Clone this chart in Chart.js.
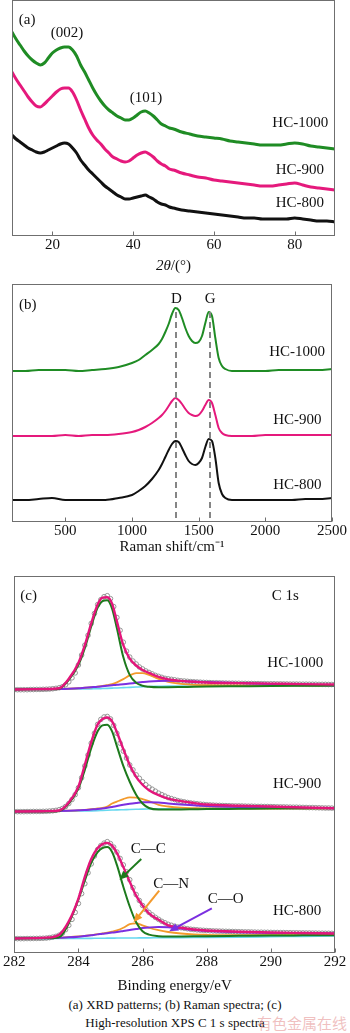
<!DOCTYPE html>
<html>
<head>
<meta charset="utf-8">
<script src="https://cdn.jsdelivr.net/npm/chart.js@4.4.0/dist/chart.umd.min.js"></script>
<style>
  html, body { margin: 0; padding: 0; background: #fff; }
  body { width: 350px; height: 1033px; position: relative; overflow: hidden; font-family: "Liberation Serif", serif; }
  .panel { position: absolute; left: 0; width: 350px; }
  #caption { position: absolute; left: 0; width: 350px; top: 996px; text-align: center; font-size: 13px; line-height: 18px; color: #111; }
  #mark { position: absolute; left: 257px; top: 1015px; font-size: 15px; line-height: 16px; font-family: "Noto Sans CJK SC", sans-serif; color: rgba(225, 130, 130, 0.5); }
</style>
</head>
<body>
<div class="panel" style="top:0;height:276px"><canvas id="xrdChart"></canvas></div>
<div class="panel" style="top:284px;height:271px"><canvas id="ramanChart"></canvas></div>
<div class="panel" style="top:572px;height:422px"><canvas id="xpsChart"></canvas></div>
<div id="caption">(a) XRD patterns; (b) Raman spectra; (c)<br>High-resolution XPS C 1 s spectra</div>
<div id="mark">有色金属在线</div>

<script>
// ---- (a) XRD, intensities (offset stacked, arb. units)
const xrdAngle = [10, 11, 12, 13, 14, 15, 16, 17, 18, 19, 20, 21, 22, 23, 24, 25, 26, 27, 28, 29, 30,
    31, 32, 33, 34, 35, 36, 37, 38, 39, 40, 41, 42, 43, 44, 45, 46, 47, 48, 49, 50,
    52, 54, 56, 58, 60, 62, 64, 66, 68, 70, 72, 74, 76, 78, 80, 82, 84, 86, 88, 90];
const xrdHC1000 = [203, 196, 190, 184, 179, 175, 172, 170, 172, 177, 182, 185, 187, 188, 188, 185, 179, 170, 163, 155, 147,
    140, 134, 129, 125, 122, 119, 117, 115, 115, 117, 120, 123, 124, 122, 119, 115, 111, 109, 107, 106,
    103, 101, 99, 98, 97, 96, 94, 93, 92, 91, 90, 90, 90, 91, 92, 91, 89, 88, 87, 86];
const xrdHC900 = [163, 156, 150, 144, 138, 133, 129, 128, 131, 135, 139, 143, 146, 147, 147, 143, 135, 125, 116, 107, 100,
    95, 91, 86, 82, 78, 76, 74, 73, 74, 77, 80, 82, 83, 81, 78, 74, 71, 69, 66, 65,
    62, 60, 58, 57, 55, 54, 53, 52, 51, 50, 49, 49, 50, 51, 52, 50, 48, 47, 46, 45];
const xrdHC800 = [100, 96, 93, 90, 87, 85, 83, 82, 83, 85, 87, 89, 91, 92, 91, 87, 82, 75, 70, 65, 61,
    57, 53, 49, 46, 43, 40, 38, 36, 36, 37, 38, 39, 40, 38, 36, 33, 31, 30, 28, 27,
    25, 24, 23, 22, 21, 20, 19, 18, 17, 17, 16, 16, 16, 16, 17, 16, 15, 14, 14, 13];
const xrdTicks = [20, 40, 60, 80];

// ---- (b) Raman
const ramanShift = [100, 200, 300, 400, 500, 600, 700, 800, 900, 1000, 1050, 1100, 1150, 1200, 1225, 1250, 1275,
    1300, 1325, 1350, 1375, 1400, 1425, 1450, 1475, 1500, 1525, 1550, 1575, 1600, 1625, 1650, 1675,
    1700, 1750, 1800, 1900, 2000, 2100, 2200, 2300, 2400, 2500];
const ramanHC1000 = [150, 150, 151, 151, 151, 150, 151, 152, 154, 158, 161, 166, 171, 177, 182, 189, 197,
    207, 213, 211, 203, 193, 185, 180, 178, 179, 185, 198, 209, 205, 183, 163, 155,
    152, 150, 150, 150, 150, 151, 151, 151, 151, 152];
const ramanHC900 = [85, 85, 85, 85, 86, 85, 86, 86, 87, 89, 91, 94, 98, 103, 106, 110, 115,
    120, 123, 121, 117, 112, 108, 106, 105, 106, 110, 116, 121, 118, 106, 93, 88,
    86, 85, 85, 85, 86, 86, 86, 86, 86, 86];
const ramanHC800 = [21, 21, 22, 23, 21, 21, 21, 21, 23, 26, 30, 35, 42, 51, 57, 64, 71,
    77, 80, 79, 73, 66, 60, 57, 56, 58, 63, 74, 82, 80, 63, 38, 27,
    23, 21, 21, 21, 21, 21, 21, 22, 22, 23];
const ramanBands = [1330, 1585];   // D and G band positions
const ramanTicks = [500, 1000, 1500, 2000, 2500];

// ---- (c) XPS C 1s
const xpsEnergy = [282.0, 282.1, 282.2, 282.3, 282.4, 282.5, 282.6, 282.7, 282.8, 282.9,
    283.0, 283.1, 283.2, 283.3, 283.4, 283.5, 283.6, 283.7, 283.8, 283.9,
    284.0, 284.1, 284.2, 284.3, 284.4, 284.5, 284.6, 284.7, 284.8, 284.9,
    285.0, 285.1, 285.2, 285.3, 285.4, 285.5, 285.6, 285.7, 285.8, 285.9,
    286.0, 286.1, 286.2, 286.3, 286.4, 286.5, 286.6, 286.7, 286.8, 286.9,
    287.0, 287.1, 287.2, 287.3, 287.4, 287.5, 287.6, 287.7, 287.8, 287.9,
    288.0, 288.1, 288.2, 288.3, 288.4, 288.5, 288.6, 288.7, 288.8, 288.9,
    289.0, 289.1, 289.2, 289.3, 289.4, 289.5, 289.6, 289.7, 289.8, 289.9,
    290.0, 290.1, 290.2, 290.3, 290.4, 290.5, 290.6, 290.7, 290.8, 290.9,
    291.0, 291.1, 291.2, 291.3, 291.4, 291.5, 291.6, 291.7, 291.8, 291.9, 292.0];
const xpsMeasHC1000 = [265, 265, 265, 265, 265, 265.2, 265.2, 265.3, 265.3, 265.4,
    265.5, 265.7, 266, 266.4, 267, 268, 270, 273, 277, 282,
    290, 300, 310, 320, 332, 342, 351, 356, 359, 360,
    357, 349, 338, 325, 313, 304, 298, 294, 291, 288,
    286, 284, 282.5, 281, 279.5, 278.5, 277.5, 276.5, 276, 275.5,
    275, 274.5, 274, 273.8, 273.5, 273.2, 273, 272.8, 272.6, 272.4,
    272.3, 272.2, 272, 272, 271.9, 271.8, 271.7, 271.6, 271.6, 271.5,
    271.5, 271.4, 271.4, 271.3, 271.3, 271.2, 271.2, 271.1, 271.1, 271,
    271, 271, 270.9, 270.9, 270.8, 270.8, 270.7, 270.7, 270.7, 270.6,
    270.6, 270.6, 270.5, 270.5, 270.5, 270.4, 270.4, 270.4, 270.3, 270.3, 270.3];
const xpsMeasHC900 = [141.8, 141.8, 141.8, 141.8, 141.9, 141.9, 142, 142, 142, 142.1,
    142.2, 142.4, 142.7, 143.1, 143.8, 145, 147, 150, 154, 159,
    166, 176, 188, 199, 211, 221, 230, 235, 237.5, 238,
    235.5, 229, 221, 211, 203, 196, 189, 184, 179, 175.5,
    172, 169, 166.5, 164.5, 162.5, 160.5, 159, 157.5, 156, 155,
    154, 153, 152.3, 151.7, 151.1, 150.6, 150.2, 149.8, 149.4, 149.1,
    148.8, 148.6, 148.4, 148.2, 148.1, 148, 147.9, 147.8, 147.7, 147.6,
    147.6, 147.5, 147.4, 147.3, 147.3, 147.2, 147.1, 147.1, 147, 147,
    146.9, 146.8, 146.7, 146.6, 146.6, 146.5, 146.4, 146.3, 146.3, 146.2,
    146.1, 146, 145.9, 145.9, 145.8, 145.7, 145.6, 145.5, 145.5, 145.4, 145.3];
const xpsMeasHC800 = [13.5, 13.5, 13.5, 13.5, 13.6, 13.6, 13.7, 13.7, 13.8, 13.9,
    14.1, 14.5, 15, 15.8, 17, 19, 22.5, 27, 33, 40,
    49, 59, 69, 80, 89, 97, 103.5, 107.5, 110, 111.5,
    109.5, 106, 101, 94.5, 88, 81, 73, 65, 58, 52,
    47, 43, 40, 37.5, 35, 33, 31, 29.5, 28, 27,
    26, 25.2, 24.5, 24, 23.5, 23, 22.7, 22.4, 22.1, 21.9,
    21.7, 21.5, 21.3, 21.2, 21.1, 21, 20.9, 20.8, 20.7, 20.6,
    20.5, 20.4, 20.3, 20.3, 20.2, 20.1, 20, 20, 19.9, 19.9,
    19.8, 19.7, 19.7, 19.6, 19.6, 19.5, 19.5, 19.4, 19.4, 19.3,
    19.3, 19.2, 19.2, 19.1, 19.1, 19, 19, 18.9, 18.9, 18.8, 18.7];

// fitted curves (fit envelope and components)
const xpsFitEnergy = [282, 283, 283.4, 283.7, 284, 284.2, 284.4, 284.6, 284.75, 284.9, 285.05, 285.2, 285.4,
    285.6, 285.8, 286, 286.2, 286.5, 286.8, 287.2, 287.6, 288, 289, 290, 291, 292];

const fitHC1000 = [265.3, 265.7, 266.5, 276, 292, 310, 332, 351, 358, 358.5, 352, 334, 310,
    296.5, 289.5, 285, 282, 278, 275.5, 274, 273, 272.3, 271.7, 271.2, 270.7, 270.3];
const ccHC1000 = [265.3, 265.5, 266, 275, 290, 307, 329, 348, 354.5, 355.5, 347, 327, 298,
    280, 272, 269, 268, 267.5, 267.5, 267.7, 268, 268.2, 268.5, 268.8, 269, 269.2];
const cnHC1000 = [265.3, 265.5, 265.7, 266, 266.5, 267, 267.5, 268.2, 268.8, 269.7, 270.7, 272.5, 275.7,
    279.5, 281.8, 281.8, 280, 276, 273, 271, 270, 269.5, 269.3, 269.3, 269.3, 269.3];
const coHC1000 = [265.3, 265.5, 265.7, 266, 266.5, 267, 267.5, 268, 268.5, 269, 269.5, 270, 270.5,
    271.2, 272, 272.7, 273.3, 273.8, 274, 273.7, 273.2, 272.7, 271.7, 270.7, 270, 269.3];
const bgHC1000 = [265.3, 265.4, 265.5, 265.6, 265.7, 265.8, 265.9, 266, 266.2, 266.4, 266.6, 266.8, 267.1,
    267.4, 267.7, 268, 268.2, 268.4, 268.6, 268.7, 268.8, 268.9, 269, 269.1, 269.2, 269.3];

const fitHC900 = [142, 142.3, 143, 151, 167, 189, 212, 230, 235.5, 237, 233, 222, 205,
    189, 177, 169, 163.5, 158.5, 155, 152.5, 150.5, 149, 147.8, 147, 146, 145.3];
const ccHC900 = [142, 142, 142.5, 150, 165, 184, 206, 223, 229, 229.7, 223, 208, 188,
    172, 159, 150, 145.5, 144, 144, 144, 144.2, 144.4, 144.7, 145, 145.2, 145.3];
const cnHC900 = [142, 142.2, 142.5, 142.8, 143.2, 143.7, 144.3, 145, 145.5, 147, 150, 152, 154.5,
    156.3, 156, 154.5, 152.5, 148.7, 147, 145.8, 145.3, 145, 145, 145, 145.2, 145.3];
const coHC900 = [142, 142.2, 142.5, 142.8, 143.2, 143.5, 144, 144.5, 145, 145.7, 146.5, 147.5, 148.7,
    149.7, 150.5, 151.2, 151.3, 151, 150, 149, 148.2, 147.5, 146.5, 146, 145.6, 145.3];
const bgHC900 = [142, 142.1, 142.2, 142.3, 142.4, 142.5, 142.6, 142.8, 143, 143.2, 143.4, 143.6, 143.8,
    144, 144.2, 144.4, 144.5, 144.6, 144.7, 144.8, 144.9, 145, 145.1, 145.2, 145.3, 145.3];

const fitHC800 = [13.7, 14.5, 17.5, 31, 54, 76, 94, 105, 109, 110.3, 107.5, 100, 86,
    71, 57, 47, 39, 32.5, 27, 24.5, 22.7, 21.7, 20.5, 19.7, 19.2, 18.7];
const ccHC800 = [13.7, 14, 15, 29, 53, 72, 90, 101, 105, 106, 101, 88, 66,
    46, 30, 21, 17.5, 16, 15.7, 15.7, 15.8, 16, 16.3, 16.6, 16.8, 17];
const cnHC800 = [13.7, 14, 14.5, 15, 15.7, 16.3, 17, 18, 18.8, 19.5, 20.5, 21.8, 24.5,
    28.2, 29, 27, 24.5, 22, 20.2, 18.7, 17.8, 17.4, 17, 17, 17, 17];
const coHC800 = [13.7, 14, 14.4, 14.8, 15.5, 16.2, 17, 17.8, 18.5, 19, 19.6, 20.2, 21.2,
    22.2, 23.2, 24.2, 24.8, 25.3, 25, 23.8, 22.2, 21.2, 20, 19.3, 19, 18.7];
const bgHC800 = [13.7, 13.7, 13.7, 13.7, 13.7, 13.8, 13.8, 13.9, 13.9, 14, 14, 14.1, 14.1,
    14.2, 14.2, 14.3, 14.3, 14.4, 14.4, 14.5, 14.6, 14.7, 15, 15.4, 15.8, 16.2];
const xpsTicks = [282, 284, 286, 288, 290, 292];

const GREEN = '#1f8c24';
const PINK = '#e5197c';
const SERIF = '"Liberation Serif", "Times New Roman", serif';

Chart.defaults.font.family = SERIF;
Chart.defaults.color = '#111';

function toPoints(xs, ys) {
    return xs.map((x, i) => ({ x: x, y: ys[i] }));
}

function lineSet(xs, ys, color, width) {
    return {
        data: toPoints(xs, ys),
        borderColor: color,
        borderWidth: width,
        pointRadius: 0,
        cubicInterpolationMode: 'monotone',
        fill: false
    };
}

// frame, inward tick marks, arrows and in-plot labels
const panelDecor = {
    id: 'panelDecor',
    afterDraw(chart, args, opts) {
        const { ctx, chartArea: a, scales: { x, y } } = chart;
        ctx.save();
        ctx.strokeStyle = '#6f6f6f';
        ctx.lineWidth = 1;
        const l = Math.round(a.left) + 0.5, r = Math.round(a.right) - 0.5;
        const t = Math.round(a.top) - 0.5, b = Math.round(a.bottom) + 0.5;
        ctx.strokeRect(l, t, r - l, b - t);
        x.ticks.forEach(tk => {
            const px = Math.round(x.getPixelForValue(tk.value)) + 0.5;
            ctx.beginPath();
            ctx.moveTo(px, b);
            ctx.lineTo(px, b - 4);
            ctx.stroke();
        });

        (opts.arrows || []).forEach(ar => {
            const x0 = x.getPixelForValue(ar.from[0]), y0 = y.getPixelForValue(ar.from[1]);
            const x1 = x.getPixelForValue(ar.to[0]), y1 = y.getPixelForValue(ar.to[1]);
            const ang = Math.atan2(y1 - y0, x1 - x0);
            const c = Math.cos(ang), s = Math.sin(ang);
            ctx.strokeStyle = ar.color;
            ctx.fillStyle = ar.color;
            ctx.lineWidth = 2;
            ctx.beginPath();
            ctx.moveTo(x0, y0);
            ctx.lineTo(x1 - 6 * c, y1 - 6 * s);
            ctx.stroke();
            ctx.beginPath();
            ctx.moveTo(x1, y1);
            ctx.lineTo(x1 - 9 * c + 4 * s, y1 - 9 * s - 4 * c);
            ctx.lineTo(x1 - 9 * c - 4 * s, y1 - 9 * s + 4 * c);
            ctx.closePath();
            ctx.fill();
        });

        ctx.fillStyle = '#111';
        ctx.textBaseline = 'middle';
        (opts.labels || []).forEach(lb => {
            ctx.font = '15px ' + SERIF;
            ctx.textAlign = lb.align || 'center';
            ctx.fillText(lb.text, x.getPixelForValue(lb.x), y.getPixelForValue(lb.y));
        });

        // axis title with italic part (panel a)
        if (opts.xTitle) {
            const parts = opts.xTitle;
            let total = 0;
            parts.forEach(p => { ctx.font = p.style + ' 15px ' + SERIF; p.w = ctx.measureText(p.text).width; total += p.w; });
            let cx = (a.left + a.right) / 2 - total / 2;
            ctx.textAlign = 'left';
            parts.forEach(p => {
                ctx.font = p.style + ' 15px ' + SERIF;
                ctx.fillText(p.text, cx, a.bottom + opts.xTitleOffset);
                cx += p.w;
            });
        }
        ctx.restore();
    }
};

function xAxis(min, max, tickList, title, titlePad) {
    return {
        type: 'linear',
        min: min,
        max: max,
        afterBuildTicks: scale => { scale.ticks = tickList.map(v => ({ value: v })); },
        grid: { display: false, drawTicks: false },
        border: { display: false },
        ticks: {
            padding: 3,
            autoSkip: false,
            maxRotation: 0,
            color: '#111',
            font: { size: 15, lineHeight: 1 },
            callback: v => String(v)
        },
        title: {
            display: !!title,
            text: title || '',
            color: '#111',
            font: { size: 15, lineHeight: 1 },
            padding: titlePad || { top: 0, bottom: 0 }
        }
    };
}

function baseOptions(xScale, yMax, padding, decor) {
    return {
        responsive: true,
        maintainAspectRatio: false,
        animation: false,
        events: [],
        layout: { padding: padding },
        scales: {
            x: xScale,
            y: { display: false, min: 0, max: yMax }
        },
        plugins: {
            legend: { display: false },
            tooltip: { enabled: false },
            panelDecor: decor
        }
    };
}

// (a) XRD patterns
new Chart(document.getElementById('xrdChart'), {
    type: 'line',
    data: {
        datasets: [
            lineSet(xrdAngle, xrdHC1000, GREEN, 3),
            lineSet(xrdAngle, xrdHC900, PINK, 3),
            lineSet(xrdAngle, xrdHC800, '#111', 3)
        ]
    },
    options: baseOptions(
        xAxis(10, 90, xrdTicks, null),
        234,
        { left: 12, right: 15, top: 1, bottom: 20 },
        {
            labels: [
                { text: '(a)', x: 11.7, y: 215, align: 'left' },
                { text: '(002)', x: 23.6, y: 202 },
                { text: '(101)', x: 43.2, y: 137 },
                { text: 'HC-1000', x: 88.3, y: 112, align: 'right' },
                { text: 'HC-900', x: 81.3, y: 65 },
                { text: 'HC-800', x: 81.3, y: 32 }
            ],
            xTitle: [{ text: '2θ', style: 'italic' }, { text: '/(°)', style: 'normal' }],
            xTitleOffset: 31
        }
    ),
    plugins: [panelDecor]
});

// (b) Raman spectra
const bandLines = ramanBands.map(v => ({
    data: [{ x: v, y: 3 }, { x: v, y: 209 }],
    borderColor: '#858585',
    borderWidth: 2,
    borderDash: [6, 4],
    pointRadius: 0
}));

new Chart(document.getElementById('ramanChart'), {
    type: 'line',
    data: {
        datasets: [
            ...bandLines,
            lineSet(ramanShift, ramanHC1000, GREEN, 2),
            lineSet(ramanShift, ramanHC900, PINK, 2),
            lineSet(ramanShift, ramanHC800, '#111', 2)
        ]
    },
    options: baseOptions(
        xAxis(100, 2500, ramanTicks, 'Raman shift/cm⁻¹', { top: -2, bottom: 0 }),
        236,
        { left: 12, right: 15, top: 1, bottom: 0 },
        {
            labels: [
                { text: '(b)', x: 152, y: 216, align: 'left' },
                { text: 'D', x: 1333, y: 222 },
                { text: 'G', x: 1586, y: 222 },
                { text: 'HC-1000', x: 2448, y: 169, align: 'right' },
                { text: 'HC-900', x: 2240, y: 101 },
                { text: 'HC-800', x: 2240, y: 36 }
            ]
        }
    ),
    plugins: [panelDecor]
});

// (c) XPS C 1s
function xpsSets(fit, cc, cn, co, bg, measured) {
    return [
        lineSet(xpsFitEnergy, fit, '#e3167b', 2.4),
        lineSet(xpsFitEnergy, cc, '#1d7a1d', 2),
        lineSet(xpsFitEnergy, co, '#7b2fe0', 2),
        lineSet(xpsFitEnergy, cn, '#f39a2c', 1.8),
        lineSet(xpsFitEnergy, bg, '#66d8ef', 1.6),
        {
            data: toPoints(xpsEnergy, measured),
            showLine: false,
            pointRadius: 2.3,
            pointBorderWidth: 0.9,
            pointBorderColor: '#8a8a8a',
            pointBackgroundColor: 'rgba(255,255,255,0)'
        }
    ];
}

new Chart(document.getElementById('xpsChart'), {
    type: 'line',
    data: {
        datasets: [
            ...xpsSets(fitHC1000, ccHC1000, cnHC1000, coHC1000, bgHC1000, xpsMeasHC1000),
            ...xpsSets(fitHC900, ccHC900, cnHC900, coHC900, bgHC900, xpsMeasHC900),
            ...xpsSets(fitHC800, ccHC800, cnHC800, coHC800, bgHC800, xpsMeasHC800)
        ]
    },
    options: baseOptions(
        xAxis(282, 292, xpsTicks, 'Binding energy/eV', { top: 6, bottom: 0 }),
        379,
        { left: 12, right: 15, top: 1, bottom: 0 },
        {
            labels: [
                { text: '(c)', x: 282.19, y: 360, align: 'left' },
                { text: 'C 1s', x: 290.45, y: 360 },
                { text: 'HC-1000', x: 291.63, y: 292, align: 'right' },
                { text: 'HC-900', x: 290.82, y: 170 },
                { text: 'HC-800', x: 290.82, y: 41 },
                { text: 'C—C', x: 286.18, y: 104 },
                { text: 'C—N', x: 286.89, y: 69 },
                { text: 'C—O', x: 288.59, y: 53 }
            ],
            arrows: [
                { from: [285.96, 94], to: [285.28, 73], color: '#1d7a1d' },
                { from: [286.52, 62], to: [285.72, 30], color: '#f39a2c' },
                { from: [288.16, 44], to: [286.83, 21], color: '#7b2fe0' }
            ]
        }
    ),
    plugins: [panelDecor]
});
</script>
</body>
</html>
